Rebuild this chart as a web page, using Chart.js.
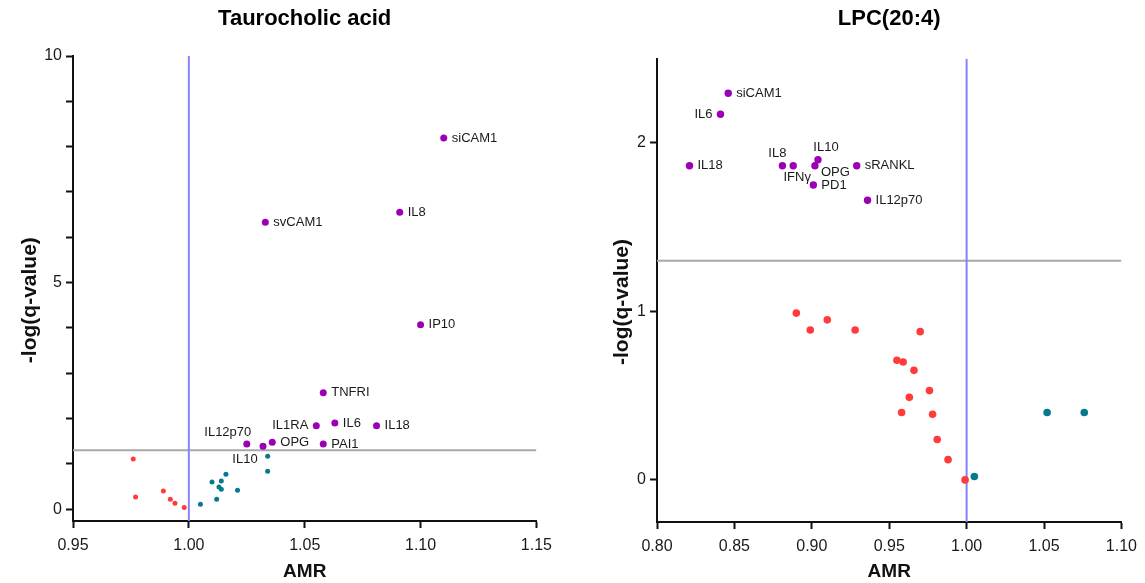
<!DOCTYPE html>
<html>
<head>
<meta charset="utf-8">
<script src="https://cdn.jsdelivr.net/npm/chart.js@4.4.1/dist/chart.umd.min.js"></script>
<style>
    body { margin: 0; background: #fff; }
    #wrap { position: relative; width: 1145px; height: 583px; }
    canvas { position: absolute; top: 0; }
</style>
</head>
<body>
<div id="wrap">
    <canvas id="tcaChart" width="560" height="583" style="left:0"></canvas>
    <canvas id="lpcChart" width="565" height="583" style="left:580px"></canvas>
</div>
<script>
// --- Taurocholic acid ---
const tcaSigNames = ['siCAM1', 'IL8', 'svCAM1', 'IP10', 'TNFRI', 'IL1RA', 'IL6', 'IL18', 'PAI1', 'OPG', 'IL12p70', 'IL10'];
const tcaSigAmr   = [1.110, 1.091, 1.033, 1.100, 1.058, 1.055, 1.063, 1.081, 1.058, 1.036, 1.025, 1.032];
const tcaSigLogq  = [8.19, 6.55, 6.33, 4.07, 2.57, 1.84, 1.90, 1.84, 1.44, 1.48, 1.44, 1.39];
const tcaLowAmr   = [0.976, 0.977, 0.989, 0.992, 0.994, 0.998];
const tcaLowLogq  = [1.11, 0.27, 0.40, 0.22, 0.13, 0.04];
const tcaHighAmr  = [1.034, 1.034, 1.016, 1.010, 1.014, 1.013, 1.014, 1.021, 1.012, 1.005];
const tcaHighLogq = [1.17, 0.84, 0.77, 0.60, 0.62, 0.49, 0.44, 0.42, 0.22, 0.11];
const tcaXTicks = [0.95, 1.00, 1.05, 1.10, 1.15];
const tcaYTicks = [0, 1, 2, 3, 4, 5, 6, 7, 8, 9, 10];
const tcaYLabelled = [0, 5, 10];

// --- LPC(20:4) ---
const lpcSigNames = ['siCAM1', 'IL6', 'IL18', 'IL8', 'IFNγ', 'IL10', 'OPG', 'PD1', 'sRANKL', 'IL12p70'];
const lpcSigAmr   = [0.846, 0.841, 0.821, 0.881, 0.888, 0.904, 0.902, 0.901, 0.929, 0.936];
const lpcSigLogq  = [2.295, 2.17, 1.865, 1.865, 1.865, 1.90, 1.865, 1.75, 1.865, 1.66];
const lpcLowAmr   = [0.890, 0.899, 0.910, 0.928, 0.970, 0.955, 0.959, 0.966, 0.976, 0.963, 0.958, 0.978, 0.981, 0.988, 0.999];
const lpcLowLogq  = [0.99, 0.89, 0.95, 0.89, 0.88, 0.71, 0.70, 0.65, 0.53, 0.49, 0.40, 0.39, 0.24, 0.12, 0.00];
const lpcHighAmr  = [1.005, 1.052, 1.076];
const lpcHighLogq = [0.02, 0.40, 0.40];
const lpcXTicks = [0.80, 0.85, 0.90, 0.95, 1.00, 1.05, 1.10];
const lpcYTicks = [0, 1, 2];

const qThreshold = 1.301;   // -log10(0.05)
const amrNeutral = 1.00;

const FONT = '"Liberation Sans", Arial, sans-serif';
const INK = '#1a1a1a';
const PURPLE = '#9b00b5';
const RED = '#ff3b3b';
const TEAL = '#06798f';

const toPoints = (xs, ys) => xs.map((x, i) => ({ x: x, y: ys[i] }));

// draws the cytokine names next to their points
const pointLabels = {
    id: 'pointLabels',
    afterDatasetsDraw(chart, args, opts) {
        const ctx = chart.ctx;
        chart.data.datasets.forEach((ds, i) => {
            if (!ds.names) return;
            const meta = chart.getDatasetMeta(i);
            ctx.save();
            ctx.font = '13px ' + FONT;
            ctx.fillStyle = INK;
            ctx.textBaseline = 'middle';
            meta.data.forEach((pt, j) => {
                const name = ds.names[j];
                const [dx, dy, align] = (opts.place && opts.place[name]) || [8, 0, 'left'];
                ctx.textAlign = align;
                ctx.fillText(name, pt.x + dx, pt.y + dy);
            });
            ctx.restore();
        });
    }
};

function buildChart(id, cfg) {
    const ctx = document.getElementById(id);
    const datasets = [
        {
            data: toPoints(cfg.sig[0], cfg.sig[1]), names: cfg.names,
            backgroundColor: PURPLE, pointRadius: cfg.sigRadius, borderWidth: 0, order: 1
        },
        {
            data: toPoints(cfg.low[0], cfg.low[1]),
            backgroundColor: RED, pointRadius: cfg.dotRadius, borderWidth: 0, order: 2
        },
        {
            data: toPoints(cfg.high[0], cfg.high[1]),
            backgroundColor: TEAL, pointRadius: cfg.dotRadius, borderWidth: 0, order: 3
        },
        {
            type: 'line', order: 9,
            data: [{ x: cfg.xMin, y: qThreshold }, { x: cfg.xMax, y: qThreshold }],
            borderColor: '#a8a8a8', borderWidth: 2, pointRadius: 0
        },
        {
            type: 'line', order: 8,
            data: [{ x: amrNeutral, y: cfg.yMin }, { x: amrNeutral, y: cfg.yMax }],
            borderColor: '#8383fb', borderWidth: 2, pointRadius: 0
        }
    ];

    return new Chart(ctx, {
        type: 'scatter',
        data: { datasets: datasets },
        plugins: [pointLabels],
        options: {
            responsive: false,
            animation: false,
            layout: { padding: { left: 0, right: cfg.padRight, top: 0, bottom: 0 } },
            plugins: {
                legend: { display: false },
                tooltip: { enabled: false },
                title: {
                    display: true,
                    text: cfg.title,
                    fullSize: false,
                    color: '#000',
                    font: { family: FONT, size: 22, weight: 'bold' },
                    padding: { top: 6, bottom: cfg.titleGap }
                },
                pointLabels: { place: cfg.place }
            },
            scales: {
                x: {
                    type: 'linear',
                    min: cfg.xMin, max: cfg.xMax,
                    afterBuildTicks: s => { s.ticks = cfg.xTicks.map(v => ({ value: v })); },
                    afterFit: s => { s.height = cfg.xHeight; },
                    ticks: {
                        color: INK, padding: 8, maxRotation: 0,
                        font: { family: FONT, size: 16 },
                        callback: v => Number(v).toFixed(2)
                    },
                    grid: { drawOnChartArea: false, tickLength: 7, tickColor: '#111', tickWidth: 2 },
                    border: { color: '#111', width: 2 },
                    title: {
                        display: true, text: 'AMR', color: '#111',
                        font: { family: FONT, size: 19, weight: 'bold' },
                        padding: { top: 0, bottom: 0 }
                    }
                },
                y: {
                    type: 'linear',
                    min: cfg.yMin, max: cfg.yMax,
                    afterBuildTicks: s => { s.ticks = cfg.yTicks.map(v => ({ value: v })); },
                    afterFit: s => { s.width = cfg.yWidth; },
                    ticks: {
                        color: INK, padding: 4,
                        font: { family: FONT, size: 16 },
                        callback: v => (cfg.yLabelled.includes(v) ? String(v) : '')
                    },
                    grid: { drawOnChartArea: false, tickLength: 7, tickColor: '#111', tickWidth: 2 },
                    border: { color: '#111', width: 2 },
                    title: {
                        display: true, text: '-log(q-value)    ', color: '#111',
                        font: { family: FONT, size: 21, weight: 'bold' },
                        padding: { top: cfg.yTitlePad, bottom: 0 }
                    }
                }
            }
        }
    });
}

buildChart('tcaChart', {
    title: 'Taurocholic acid',
    names: tcaSigNames,
    sig: [tcaSigAmr, tcaSigLogq],
    low: [tcaLowAmr, tcaLowLogq],
    high: [tcaHighAmr, tcaHighLogq],
    sigRadius: 3.5, dotRadius: 2.5,
    xMin: 0.95, xMax: 1.15, yMin: -0.26, yMax: 10,
    xTicks: tcaXTicks, yTicks: tcaYTicks, yLabelled: tcaYLabelled,
    yWidth: 73, xHeight: 62, padRight: 23, titleGap: 23.6, yTitlePad: 18,
    place: {
        'IL1RA': [-8, 0, 'right'],
        'IL12p70': [-19, -12, 'center'],
        'IL10': [-18, 13, 'center']
    }
});

buildChart('lpcChart', {
    title: 'LPC(20:4)',
    names: lpcSigNames,
    sig: [lpcSigAmr, lpcSigLogq],
    low: [lpcLowAmr, lpcLowLogq],
    high: [lpcHighAmr, lpcHighLogq],
    sigRadius: 3.7, dotRadius: 3.8,
    xMin: 0.80, xMax: 1.10, yMin: -0.25, yMax: 2.5,
    xTicks: lpcXTicks, yTicks: lpcYTicks, yLabelled: lpcYTicks,
    yWidth: 77, xHeight: 61, padRight: 22, titleGap: 26.3, yTitlePad: 30,
    place: {
        'IL6': [-8, 0, 'right'],
        'IL8': [-5, -12, 'center'],
        'IFNγ': [4, 12, 'center'],
        'IL10': [8, -12, 'center'],
        'OPG': [6, 7, 'left']
    }
});
</script>
</body>
</html>
